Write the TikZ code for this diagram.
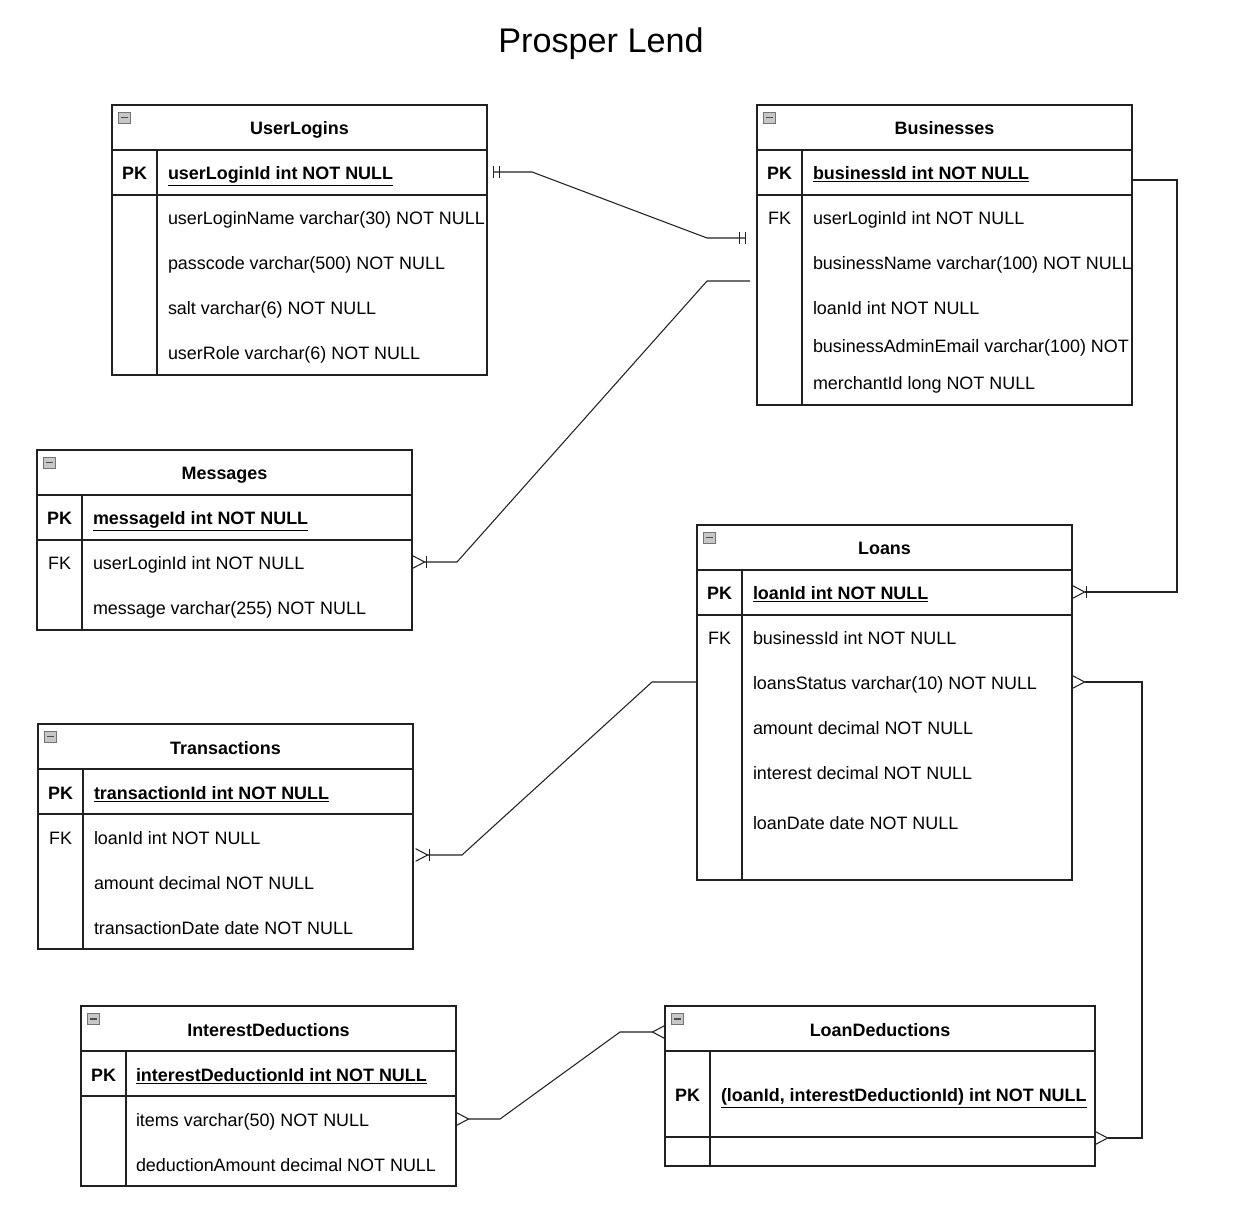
\documentclass[tikz,border=0pt]{standalone}
\usepackage{fontspec}
\setmainfont{Liberation Sans}
\usetikzlibrary{arrows.meta,calc}
\newcommand*{\erdfont}{\fontsize{12.75}{15}\selectfont}
\newcommand*{\erdheadfont}{\fontsize{24.3}{29}\selectfont}
\definecolor{edge}{gray}{0.13}
\definecolor{iconfill}{gray}{0.78}
\definecolor{iconline}{gray}{0.45}
\tikzset{
  base/.style={x=0.025cm, y=-0.025cm, line width=0.9pt, draw=edge, inner sep=0pt, outer sep=0pt},
  tabbox/.style={draw=edge, line width=0.9pt, anchor=north west},
  tabtitle/.style={font=\erdfont\bfseries, text height=10.5pt, text depth=0pt},
  keylabel/.style={font=\erdfont\bfseries, text height=10.5pt, text depth=0pt},
  fklabel/.style={font=\erdfont, text height=10.5pt, text depth=0pt},
  field/.style={font=\erdfont, anchor=west, text height=10.5pt, text depth=0pt},
  pkfield/.style={field, font=\erdfont\bfseries},
  link/.style={draw=edge, line width=0.75pt},
  erone/.tip={Bar[width=8.5pt,sep=3.5pt] Bar[width=8.5pt,sep=4pt]},
  ermany/.tip={Straight Barb[reversed,length=8.5pt,width=9pt]},
  eronemany/.tip={Bar[width=8.5pt] Straight Barb[reversed,length=8.5pt,width=9pt]},
}

\begin{document}
\begin{tikzpicture}[base]
    \useasboundingbox (0,0) rectangle (1240,1210);
    \node[font=\erdheadfont] (title) at (601,44) {Prosper Lend};

    % UserLogins
    \node[tabbox, minimum width=9.375cm, minimum height=6.75cm] (userlogins) at (112,105) {};
    \draw (112,150) -- (487,150);
    \draw (112,195) -- (487,195);
    \draw (157,150) -- (157,375);
    \node[tabtitle] (ul-title) at (299.5,127) {UserLogins};
    \node[keylabel] (ul-pkl) at (134.5,172) {PK};
    \node[pkfield] (ul-pk) at (168,172) {\underline{userLoginId int NOT NULL}};
    \node[field] (ul-name) at (168,217) {userLoginName varchar(30) NOT NULL};
    \node[field] (ul-pass) at (168,262) {passcode varchar(500) NOT NULL};
    \node[field] (ul-salt) at (168,307) {salt varchar(6) NOT NULL};
    \node[field] (ul-role) at (168,352) {userRole varchar(6) NOT NULL};

    % Businesses
    \node[tabbox, minimum width=9.375cm, minimum height=7.5cm] (businesses) at (757,105) {};
    \draw (757,150) -- (1132,150);
    \draw (757,195) -- (1132,195);
    \draw (802,150) -- (802,405);
    \node[tabtitle] (bz-title) at (944.5,127) {Businesses};
    \node[keylabel] (bz-pkl) at (779.5,172) {PK};
    \node[fklabel] (bz-fkl) at (779.5,217) {FK};
    \node[pkfield] (bz-pk) at (813,172) {\underline{businessId int NOT NULL}};
    \node[field] (bz-user) at (813,217) {userLoginId int NOT NULL};
    \node[field] (bz-name) at (813,262) {businessName varchar(100) NOT NULL};
    \node[field] (bz-loan) at (813,307) {loanId int NOT NULL};
    \node[field] (bz-mail) at (813,345) {businessAdminEmail varchar(100) NOT};
    \node[field] (bz-merch) at (813,382) {merchantId long NOT NULL};

    % Messages
    \node[tabbox, minimum width=9.375cm, minimum height=4.5cm] (messages) at (37,450) {};
    \draw (37,495) -- (412,495);
    \draw (37,540) -- (412,540);
    \draw (82,495) -- (82,630);
    \node[tabtitle] (ms-title) at (224.5,472) {Messages};
    \node[keylabel] (ms-pkl) at (59.5,517) {PK};
    \node[fklabel] (ms-fkl) at (59.5,562) {FK};
    \node[pkfield] (ms-pk) at (93,517) {\underline{messageId int NOT NULL}};
    \node[field] (ms-user) at (93,562) {userLoginId int NOT NULL};
    \node[field] (ms-text) at (93,607) {message varchar(255) NOT NULL};

    % Loans
    \node[tabbox, minimum width=9.375cm, minimum height=8.875cm] (loans) at (697,525) {};
    \draw (697,570) -- (1072,570);
    \draw (697,615) -- (1072,615);
    \draw (742,570) -- (742,880);
    \node[tabtitle] (ln-title) at (884.5,547) {Loans};
    \node[keylabel] (ln-pkl) at (719.5,592) {PK};
    \node[fklabel] (ln-fkl) at (719.5,637) {FK};
    \node[pkfield] (ln-pk) at (753,592) {\underline{loanId int NOT NULL}};
    \node[field] (ln-biz) at (753,637) {businessId int NOT NULL};
    \node[field] (ln-status) at (753,682) {loansStatus varchar(10) NOT NULL};
    \node[field] (ln-amount) at (753,727) {amount decimal NOT NULL};
    \node[field] (ln-rate) at (753,772) {interest decimal NOT NULL};
    \node[field] (ln-date) at (753,822) {loanDate date NOT NULL};

    % Transactions
    \node[tabbox, minimum width=9.375cm, minimum height=5.625cm] (transactions) at (38,724) {};
    \draw (38,769) -- (413,769);
    \draw (38,814) -- (413,814);
    \draw (83,769) -- (83,949);
    \node[tabtitle] (tr-title) at (225.5,747) {Transactions};
    \node[keylabel] (tr-pkl) at (60.5,792) {PK};
    \node[fklabel] (tr-fkl) at (60.5,837) {FK};
    \node[pkfield] (tr-pk) at (94,792) {\underline{transactionId int NOT NULL}};
    \node[field] (tr-loan) at (94,837) {loanId int NOT NULL};
    \node[field] (tr-amount) at (94,882) {amount decimal NOT NULL};
    \node[field] (tr-date) at (94,927) {transactionDate date NOT NULL};

    % InterestDeductions
    \node[tabbox, minimum width=9.375cm, minimum height=4.5cm] (interestdeductions) at (81,1006) {};
    \draw (81,1051) -- (456,1051);
    \draw (81,1096) -- (456,1096);
    \draw (126,1051) -- (126,1186);
    \node[tabtitle] (id-title) at (268.5,1029) {InterestDeductions};
    \node[keylabel] (id-pkl) at (103.5,1074) {PK};
    \node[pkfield] (id-pk) at (136,1074) {\underline{interestDeductionId int NOT NULL}};
    \node[field] (id-items) at (136,1119) {items varchar(50) NOT NULL};
    \node[field] (id-amount) at (136,1164) {deductionAmount decimal NOT NULL};

    % LoanDeductions
    \node[tabbox, minimum width=10.75cm, minimum height=4cm] (loandeductions) at (665,1006) {};
    \draw (665,1051) -- (1095,1051);
    \draw (665,1137) -- (1095,1137);
    \draw (710,1051) -- (710,1166);
    \node[tabtitle] (ld-title) at (880,1029) {LoanDeductions};
    \node[keylabel] (ld-pkl) at (687.5,1094) {PK};
    \node[pkfield] (ld-pk) at (721,1094) {\underline{(loanId, interestDeductionId) int NOT NULL}};

    % collapse icons
    \foreach \x/\y in {112/105, 757/105, 37/450, 697/525, 38/724, 81/1006, 665/1006} {
        \draw[draw=iconline, fill=iconfill, line width=0.5pt] (\x+6,\y+7) rectangle (\x+18,\y+18);
        \draw[draw=black!70, line width=1.4pt] (\x+8.5,\y+12.5) -- (\x+15.5,\y+12.5);
    }

    % relations
    \draw[link, {erone}-{erone}] (userlogins.east |- ul-pk) -- ++(45,0) -- (707,238)
        -- ($(businesses.north west)+(-5,133)$);
    \draw[link, -{eronemany}] ($(businesses.north west)+(-7,176)$) -- (707,281) -- (457,562)
        -- (messages.east |- ms-user);
    \draw[link, -{eronemany}] ($(businesses.north east)+(0,75)$) -- (1177,180) -- (1177,592)
        -- (loans.east |- ln-pk);
    \draw[link, -{eronemany}] (loans.west |- ln-status) -- (652,682) -- (462,855)
        -- ($(transactions.north east)+(2,131)$);
    \draw[link, {ermany}-{ermany}] (loans.east |- ln-status) -- (1142,682) -- (1142,1138)
        -- ($(loandeductions.north east)+(0,132)$);
    \draw[link, {ermany}-{ermany}] (interestdeductions.east |- id-items) -- (500,1119) -- (620,1032)
        -- ($(loandeductions.north west)+(0,26)$);
\end{tikzpicture}
\end{document}
